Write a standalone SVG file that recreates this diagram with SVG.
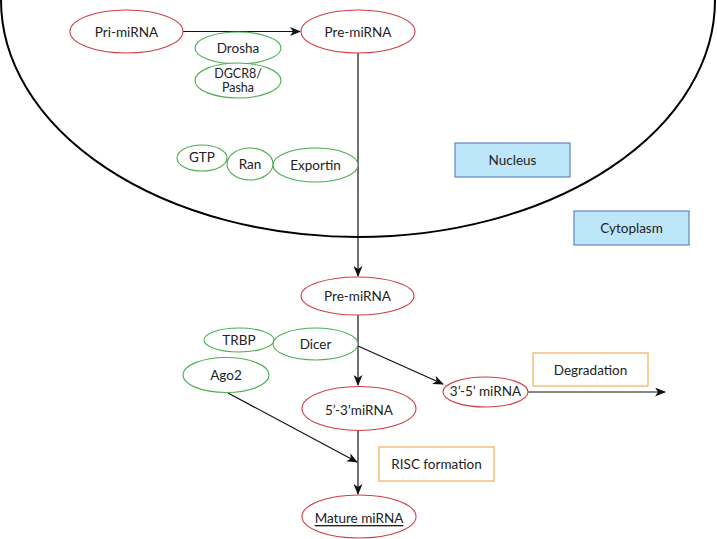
<svg xmlns="http://www.w3.org/2000/svg" width="717" height="539" viewBox="0 0 717 539">
<style>
text{font-family:Lato,"Open Sans",sans-serif;font-size:13.5px;fill:#222;text-anchor:middle;dominant-baseline:central}
.r{fill:#fff;stroke:#cf3d47;stroke-width:1.1}
.g{fill:#fff;stroke:#4dae4f;stroke-width:1.1}
.o{fill:#fff;stroke:#f3b560;stroke-width:1.3}
.b{fill:#bee6f9;stroke:#6a8ec4;stroke-width:1.3}
.c{fill:none;stroke:#111;stroke-width:1.2}
.s{font-size:12.5px}
</style>
<defs>
<marker id="ah" markerWidth="11" markerHeight="9" refX="10" refY="4.5" orient="auto" markerUnits="userSpaceOnUse">
<path d="M0,0 L11,4.5 L0,9 L3,4.5 z" fill="#111"/>
</marker>
</defs>
<path d="M1,0 A357,237 0 0 0 715,0" fill="none" stroke="#000" stroke-width="2"/>
<g id="connectors">
<line class="c" x1="183" y1="31.5" x2="300" y2="31.5" marker-end="url(#ah)"/>
<line class="c" x1="358" y1="53" x2="358" y2="276" marker-end="url(#ah)"/>
<line class="c" x1="358" y1="315" x2="358" y2="385" marker-end="url(#ah)"/>
<line class="c" x1="358" y1="346" x2="443" y2="384" marker-end="url(#ah)"/>
<line class="c" x1="528" y1="392" x2="665" y2="392" marker-end="url(#ah)"/>
<line class="c" x1="228" y1="393" x2="357" y2="462" marker-end="url(#ah)"/>
<line class="c" x1="358" y1="430" x2="358" y2="494" marker-end="url(#ah)"/>
</g>
<g id="pri-mirna"><ellipse class="r" cx="126.5" cy="31.5" rx="56.5" ry="21.5"/><text x="126.5" y="31.5">Pri-miRNA</text></g>
<g id="pre-mirna-1"><ellipse class="r" cx="358" cy="31.5" rx="57" ry="21.5"/><text x="358" y="31.5">Pre-miRNA</text></g>
<g id="drosha"><ellipse class="g" cx="238" cy="48" rx="43" ry="16"/><text x="238" y="48">Drosha</text></g>
<g id="dgcr8"><ellipse class="g" cx="238" cy="80.5" rx="43" ry="17.5"/><text class="s" x="238" y="73.5">DGCR8/</text><text class="s" x="238" y="87">Pasha</text></g>
<g id="gtp"><ellipse class="g" cx="202" cy="158" rx="25" ry="13"/><text x="202" y="157">GTP</text></g>
<g id="ran"><ellipse class="g" cx="250" cy="164" rx="23" ry="16"/><text x="250" y="164">Ran</text></g>
<g id="exportin"><ellipse class="g" cx="315.5" cy="165" rx="42.5" ry="17"/><text x="315.5" y="165">Exportin</text></g>
<g id="nucleus"><rect class="b" x="455" y="143" width="115" height="34"/><text x="512.5" y="160">Nucleus</text></g>
<g id="cytoplasm"><rect class="b" x="574" y="211" width="115" height="34"/><text x="631.5" y="228">Cytoplasm</text></g>
<g id="pre-mirna-2"><ellipse class="r" cx="357.5" cy="296" rx="56.5" ry="19"/><text x="357.5" y="296">Pre-miRNA</text></g>
<g id="trbp"><ellipse class="g" cx="239" cy="340" rx="35" ry="12"/><text x="239" y="340">TRBP</text></g>
<g id="dicer"><ellipse class="g" cx="315.5" cy="344" rx="42.5" ry="16"/><text x="315.5" y="344">Dicer</text></g>
<g id="ago2"><ellipse class="g" cx="226" cy="375" rx="43" ry="17.5"/><text x="226" y="375">Ago2</text></g>
<g id="degradation"><rect class="o" x="533" y="353" width="115" height="33"/><text x="590.5" y="370">Degradation</text></g>
<g id="mirna-3-5"><ellipse class="r" cx="485.5" cy="392" rx="42.5" ry="15"/><text x="485.5" y="391">3’-5’ miRNA</text></g>
<g id="mirna-5-3"><ellipse class="r" cx="359" cy="408.5" rx="57" ry="22"/><text x="359" y="410">5’-3’miRNA</text></g>
<g id="risc"><rect class="o" x="379" y="447" width="115" height="34"/><text x="436.5" y="464">RISC formation</text></g>
<g id="mature"><ellipse class="r" cx="359" cy="516.5" rx="57" ry="21.5"/><text x="359" y="518" text-decoration="underline">Mature miRNA</text></g>
</svg>
